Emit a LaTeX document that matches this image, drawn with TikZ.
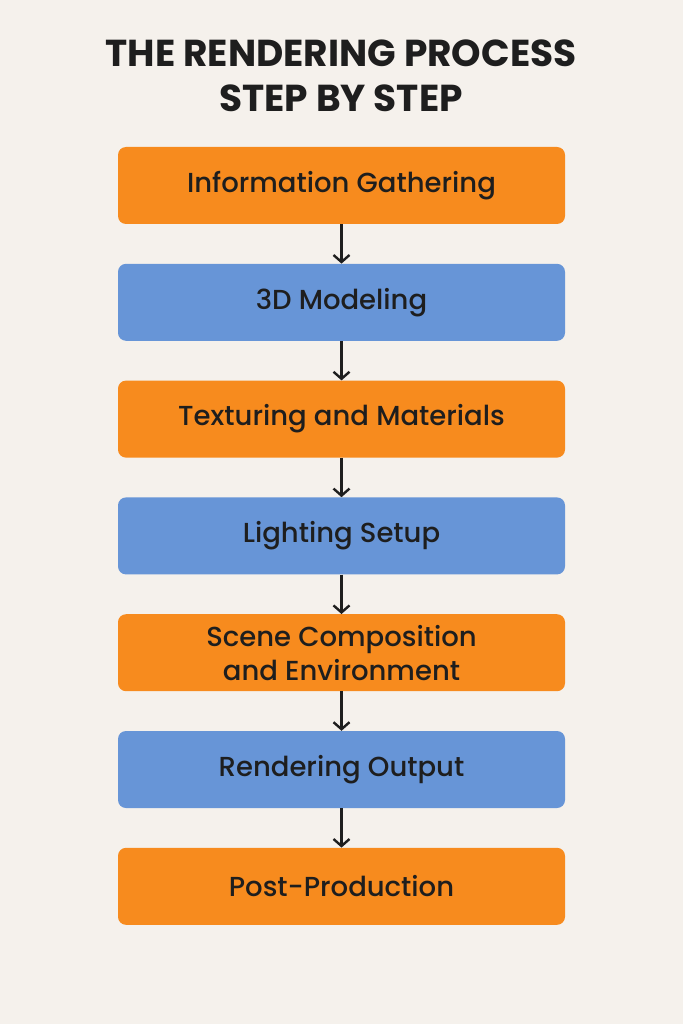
\documentclass[tikz,border=0pt]{standalone}
\usepackage{fontspec}
\setmainfont{Poppins}
\newfontfamily\stepfont{Poppins Medium}
\usetikzlibrary{positioning}
\usetikzlibrary{arrows.meta}
\definecolor{bgcream}{HTML}{F5F1EC}
\definecolor{steporange}{HTML}{F78B1E}
\definecolor{stepblue}{HTML}{6795D7}
\definecolor{inkdark}{HTML}{1E1E1E}
\begin{document}
\begin{tikzpicture}[x=1pt,y=-1pt]
			\tikzstyle{stepbox}=[rectangle,rounded corners=8pt,minimum width=447pt,minimum height=77pt,inner sep=0pt,align=center,text=inkdark,font=\stepfont\fontsize{27.5}{34}\selectfont]
			\tikzstyle{orangebox}=[stepbox,fill=steporange]
			\tikzstyle{bluebox}=[stepbox,fill=stepblue]
			\tikzstyle{nextarrow}=[draw=inkdark,line width=2.4pt,-{Straight Barb[length=7pt,width=16pt]}]
			
			\fill[bgcream] (0,0) rectangle (683,1024);
			\useasboundingbox (0,0) rectangle (683,1024);
			
			\node[text=inkdark,align=center,font=\bfseries\fontsize{37.5}{45}\selectfont] (title) at (341,76) {THE RENDERING PROCESS\\STEP BY STEP};
			
			\node[orangebox] (info) at (341.5,185.5) {Information Gathering};
			\node[bluebox,below=39.4pt of info] (model) {3D Modeling};
			\node[orangebox,below=39.4pt of model] (texture) {Texturing and Materials};
			\node[bluebox,below=39.4pt of texture] (light) {Lighting Setup};
			\node[orangebox,below=39.4pt of light] (scene) {Scene Composition\\and Environment};
			\node[bluebox,below=39.4pt of scene] (render) {Rendering Output};
			\node[orangebox,below=39.4pt of render] (post) {Post-Production};
			
			\foreach \a/\b in {info/model,model/texture,texture/light,light/scene,scene/render,render/post}
			\draw[nextarrow] (\a.south) -- (\b.north);
\end{tikzpicture}
\end{document}
